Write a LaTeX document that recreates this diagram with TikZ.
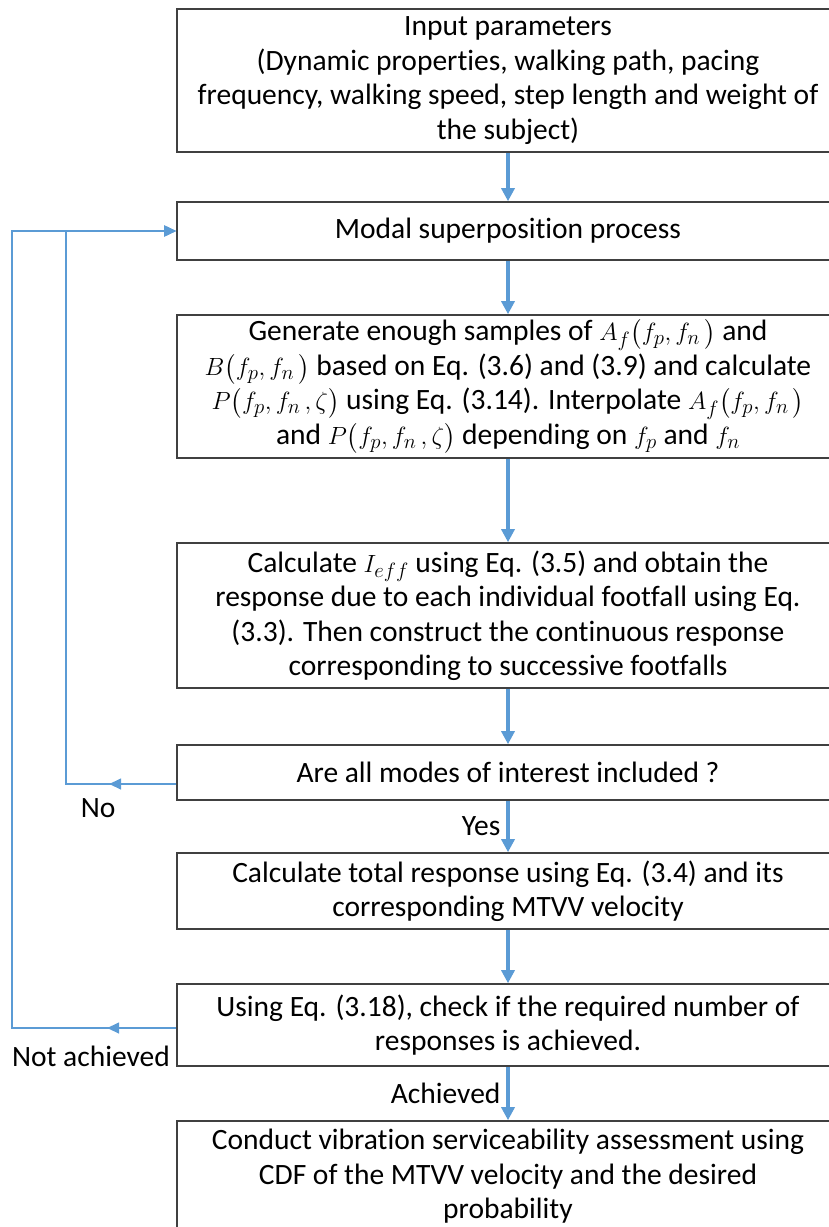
\documentclass[tikz,border=0pt]{standalone}
\usepackage{amsmath}
\usepackage{fontspec}
\setmainfont[Ligatures=NoCommon]{Carlito}
\usetikzlibrary{arrows.meta,positioning}
\definecolor{lnBlue}{RGB}{91,155,213}
\definecolor{bxGray}{RGB}{64,64,64}
\begin{document}
\begin{tikzpicture}[x=1pt,y=-1pt,font=\fontsize{29.5}{34.5}\selectfont,
  box/.style={draw=bxGray,line width=1.6pt,align=center,minimum width=662pt,inner sep=0pt},
  fl/.style={lnBlue,-{Triangle[length=13pt,width=13pt]},line width=3.2pt},
  fb/.style={lnBlue,-{Triangle[length=12pt,width=11pt]},line width=1.6pt},
  lab/.style={text=black,inner sep=2pt}]
\useasboundingbox (0,0) rectangle (828,1227);
% ---- main column
\node[box,minimum height=143pt] (inp) at (508,80.5) {Input parameters\\(Dynamic properties, walking path, pacing\\frequency, walking speed, step length and weight of\\the subject)};
\node[box,minimum height=58pt] (modal) at (508,231) {Modal superposition process};
\node[box,minimum height=143pt] (gen) at (508,386.5) {Generate enough samples of $A_f\bigl(f_p,f_n\,\bigr)$ and\\$B\bigl(f_p,f_n\,\bigr)$ based on Eq. (3.6) and (3.9) and calculate\\$P\bigl(f_p,f_n\,,\zeta\bigr)$ using Eq. (3.14). Interpolate $A_f\bigl(f_p,f_n\,\bigr)$\\and $P\bigl(f_p,f_n\,,\zeta\bigr)$ depending on $f_p$ and $f_n$};
\node[box,minimum height=145pt] (ieff) at (508,615.5) {Calculate $I_{eff}$ using Eq. (3.5) and obtain the\\response due to each individual footfall using Eq.\\(3.3). Then construct the continuous response\\corresponding to successive footfalls};
\node[box,minimum height=55pt] (modes) at (508,772.5) {Are all modes of interest included ?};
\node[box,minimum height=76pt] (tot) at (508,891) {Calculate total response using Eq. (3.4) and its\\corresponding MTVV velocity};
\node[box,minimum height=82pt] (chk) at (508,1025) {Using Eq. (3.18), check if the required number of\\responses is achieved.};
\node[box,minimum height=111pt] (cdf) at (508,1176.5) {Conduct vibration serviceability assessment using\\CDF of the MTVV velocity and the desired\\probability};
% ---- flows
\draw[fl] (inp) -- (modal);
\draw[fl] (modal) -- (gen);
\draw[fl] (gen) -- (ieff);
\draw[fl] (ieff) -- (modes);
\draw[fl] (modes) -- node[lab,left=4pt]{Yes} (tot);
\draw[fl] (tot) -- (chk);
\draw[fl] (chk) -- node[lab,left=4pt]{Achieved} (cdf);
% ---- loops back
\draw[fb] ([yshift=-11.5pt]modes.west) -- node[lab,pos=0.71,below=12pt]{No} ++(-110,0) |- (modal.west);
\draw[fb] ([yshift=-11.5pt]modes.west) -- ++(-67,0);
\draw[fb] ([yshift=-3pt]chk.west) -- node[lab,pos=0.52,below=15pt]{Not achieved} ++(-164,0) |- (modal.west);
\draw[fb] ([yshift=-3pt]chk.west) -- ++(-69,0);
\end{tikzpicture}
\end{document}
